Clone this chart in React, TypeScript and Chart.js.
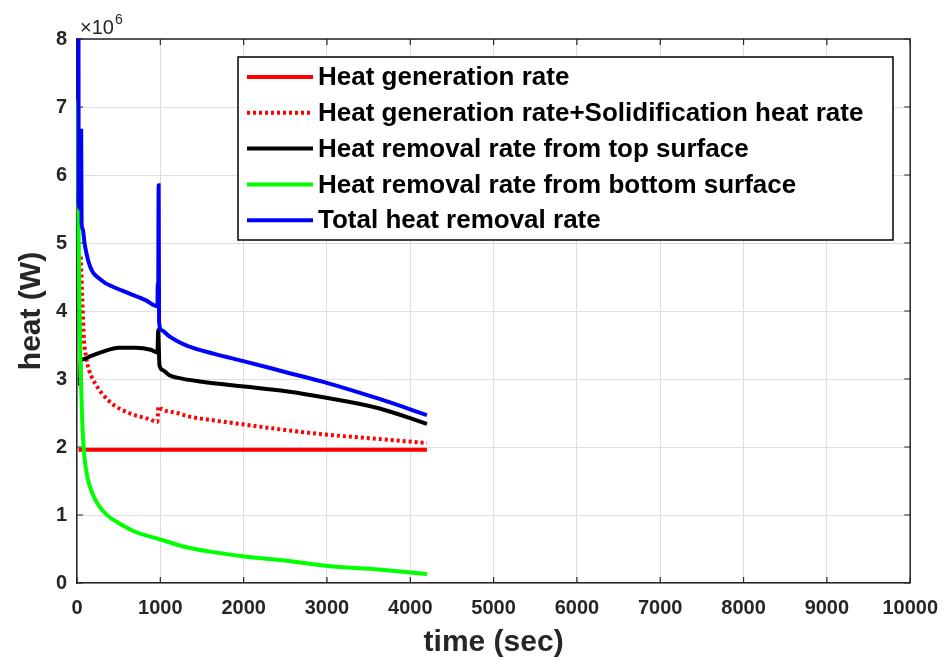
import React, { useEffect, useRef } from "react";
import { Chart, registerables } from "chart.js";

Chart.register(...registerables);

const FONT = '"Liberation Sans", Arial, Helvetica, sans-serif';
const TEXT = "#262626";

// time (sec)
const timeGen = [18, 4200];
// heat (x10^6 W)
const heatGen = [1.96, 1.96];

const timeGenSolid = [45, 64, 84, 110, 144, 180, 220, 304, 450, 624, 864, 965, 970, 978, 1000, 1200, 1340, 1650, 2008, 2500, 3008, 3600, 4200];
const heatGenSolid = [4.8, 4.16, 3.57, 3.32, 3.13, 3.02, 2.93, 2.78, 2.61, 2.5, 2.41, 2.37, 2.45, 2.6, 2.57, 2.5, 2.45, 2.39, 2.33, 2.25, 2.18, 2.12, 2.06];

const timeTop = [38, 42, 70, 150, 304, 504, 704, 884, 965, 975, 980, 990, 1030, 1104, 1200, 1500, 2008, 2508, 3008, 3620, 4200];
const heatTop = [2.9, 3.28, 3.29, 3.33, 3.4, 3.46, 3.46, 3.43, 3.39, 3.72, 3.55, 3.2, 3.13, 3.06, 3.02, 2.96, 2.89, 2.82, 2.72, 2.57, 2.34];

const timeBottom = [12, 15, 25, 40, 55, 65, 84, 100, 124, 150, 184, 240, 304, 400, 504, 704, 944, 1000, 1300, 1660, 2008, 2500, 3008, 3620, 4200];
const heatBottom = [7.1, 5.9, 4.5, 3.3, 2.7, 2.3, 1.93, 1.74, 1.56, 1.44, 1.32, 1.18, 1.07, 0.96, 0.88, 0.75, 0.66, 0.64, 0.53, 0.45, 0.39, 0.33, 0.25, 0.2, 0.13];

const timeTotal = [18, 20, 40, 50, 55, 70, 90, 115, 144, 190, 264, 340, 424, 624, 824, 965, 970, 974, 980, 985, 1010, 1104, 1200, 1340, 1650, 2008, 2508, 3008, 3620, 4200];
const heatTotal = [8.0, 5.6, 5.5, 6.65, 5.3, 5.2, 5.0, 4.84, 4.7, 4.57, 4.48, 4.41, 4.36, 4.26, 4.16, 4.07, 4.4, 4.1, 5.85, 3.85, 3.72, 3.63, 3.56, 3.48, 3.37, 3.26, 3.1, 2.94, 2.71, 2.47];

const xTickLabels = ["0", "1000", "2000", "3000", "4000", "5000", "6000", "7000", "8000", "9000", "10000"];
const yTickLabels = ["0", "1", "2", "3", "4", "5", "6", "7", "8"];

const seriesNames = [
  "Heat generation rate",
  "Heat generation rate+Solidification heat rate",
  "Heat removal rate from top surface",
  "Heat removal rate from bottom surface",
  "Total heat removal rate",
];
const seriesColors = ["#ff0000", "#ff0000", "#000000", "#00ff00", "#0000ff"];
const seriesDashed = [false, true, false, false, false];

const pts = (t: number[], v: number[]) => t.map((x, i) => ({ x, y: v[i] }));

const framePlugin = {
  id: "matlabFrame",
  beforeDatasetsDraw(chart: any) {
    const { ctx, chartArea: a, scales } = chart;
    ctx.save();
    ctx.strokeStyle = TEXT;
    ctx.lineWidth = 1.5;
    ctx.beginPath();
    ctx.moveTo(a.left, a.top);
    ctx.lineTo(a.right, a.top);
    ctx.lineTo(a.right, a.bottom);
    ctx.stroke();
    ctx.lineWidth = 1.2;
    ctx.beginPath();
    scales.x.ticks.forEach((t: any) => {
      const px = scales.x.getPixelForValue(t.value);
      ctx.moveTo(px, a.bottom);
      ctx.lineTo(px, a.bottom - 6);
      ctx.moveTo(px, a.top);
      ctx.lineTo(px, a.top + 6);
    });
    scales.y.ticks.forEach((t: any) => {
      const py = scales.y.getPixelForValue(t.value);
      ctx.moveTo(a.left, py);
      ctx.lineTo(a.left + 6, py);
      ctx.moveTo(a.right, py);
      ctx.lineTo(a.right - 6, py);
    });
    ctx.stroke();
    ctx.restore();
  },
  afterDraw(chart: any) {
    const { ctx, chartArea: a } = chart;
    ctx.save();
    // exponent label
    ctx.fillStyle = TEXT;
    ctx.textBaseline = "alphabetic";
    ctx.textAlign = "left";
    ctx.font = `20px ${FONT}`;
    const base = "\u00d710";
    ctx.fillText(base, a.left + 3, a.top - 5);
    const w = ctx.measureText(base).width;
    ctx.font = `14px ${FONT}`;
    ctx.fillText("6", a.left + 3 + w + 1, a.top - 15);

    // legend
    const lx = a.left + 161;
    const ly = a.top + 18;
    const lw = 655;
    const lh = 183;
    ctx.fillStyle = "#ffffff";
    ctx.fillRect(lx, ly, lw, lh);
    ctx.strokeStyle = "#000000";
    ctx.lineWidth = 1.5;
    ctx.strokeRect(lx, ly, lw, lh);
    ctx.font = `bold 26px ${FONT}`;
    ctx.textBaseline = "middle";
    seriesNames.forEach((name, i) => {
      const ry = ly + 20 + i * 35.8;
      ctx.strokeStyle = seriesColors[i];
      ctx.lineWidth = 4;
      ctx.setLineDash(seriesDashed[i] ? [3, 3] : []);
      ctx.beginPath();
      ctx.moveTo(lx + 9, ry);
      ctx.lineTo(lx + 75, ry);
      ctx.stroke();
      ctx.setLineDash([]);
      ctx.fillStyle = "#000000";
      ctx.fillText(name, lx + 80, ry + 1);
    });
    ctx.restore();
  },
};

export default function App() {
  const ref = useRef<HTMLCanvasElement | null>(null);

  useEffect(() => {
    if (!ref.current) return;
    const mk = (i: number, t: number[], v: number[], order: number) => ({
      label: seriesNames[i],
      data: pts(t, v),
      borderColor: seriesColors[i],
      backgroundColor: seriesColors[i],
      borderWidth: 4,
      borderDash: seriesDashed[i] ? [3, 3] : [],
      pointRadius: 0,
      cubicInterpolationMode: "monotone",
      fill: false,
      clip: 6,
      order,
    });
    const chart = new Chart(ref.current, {
      type: "line",
      data: {
        datasets: [
          mk(0, timeGen, heatGen, 4),
          mk(1, timeGenSolid, heatGenSolid, 3),
          mk(2, timeTop, heatTop, 2),
          mk(3, timeBottom, heatBottom, 1),
          mk(4, timeTotal, heatTotal, 0),
        ] as any,
      },
      options: {
        animation: false,
        responsive: false,
        devicePixelRatio: 1,
        layout: { padding: { top: 39, right: 38, left: 0, bottom: 0 } },
        plugins: { legend: { display: false }, tooltip: { enabled: false } },
        scales: {
          x: {
            type: "linear",
            min: 0,
            max: 10000,
            afterFit: (s: any) => {
              s.height = 78;
            },
            ticks: {
              stepSize: 1000,
              autoSkip: false,
              maxRotation: 0,
              padding: 13,
              color: TEXT,
              font: { family: FONT, size: 20, weight: "bold" },
              callback: (_v: any, i: number) => xTickLabels[i],
            },
            grid: { color: "#dedede", lineWidth: 1, drawTicks: false },
            border: { display: true, color: TEXT, width: 1.5 },
            title: {
              display: true,
              text: "time (sec)",
              color: TEXT,
              font: { family: FONT, size: 30, weight: "bold" },
              padding: { top: 0, bottom: 0 },
            },
          },
          y: {
            type: "linear",
            min: 0,
            max: 8,
            afterFit: (s: any) => {
              s.width = 77;
            },
            ticks: {
              stepSize: 1,
              padding: 10,
              color: TEXT,
              font: { family: FONT, size: 20, weight: "bold" },
              callback: (_v: any, i: number) => yTickLabels[i],
            },
            grid: { color: "#dedede", lineWidth: 1, drawTicks: false },
            border: { display: true, color: TEXT, width: 1.5 },
            title: {
              display: true,
              text: "heat (W)",
              color: TEXT,
              font: { family: FONT, size: 30, weight: "bold" },
              padding: { top: 14, bottom: 0 },
            },
          },
        },
      },
      plugins: [framePlugin],
    });
    return () => chart.destroy();
  }, []);

  return (
    <div style={{ position: "absolute", left: 0, top: 0, width: 951, height: 661, background: "#fff" }}>
      <canvas ref={ref} width={951} height={661} style={{ width: 951, height: 661, display: "block" }} />
    </div>
  );
}
